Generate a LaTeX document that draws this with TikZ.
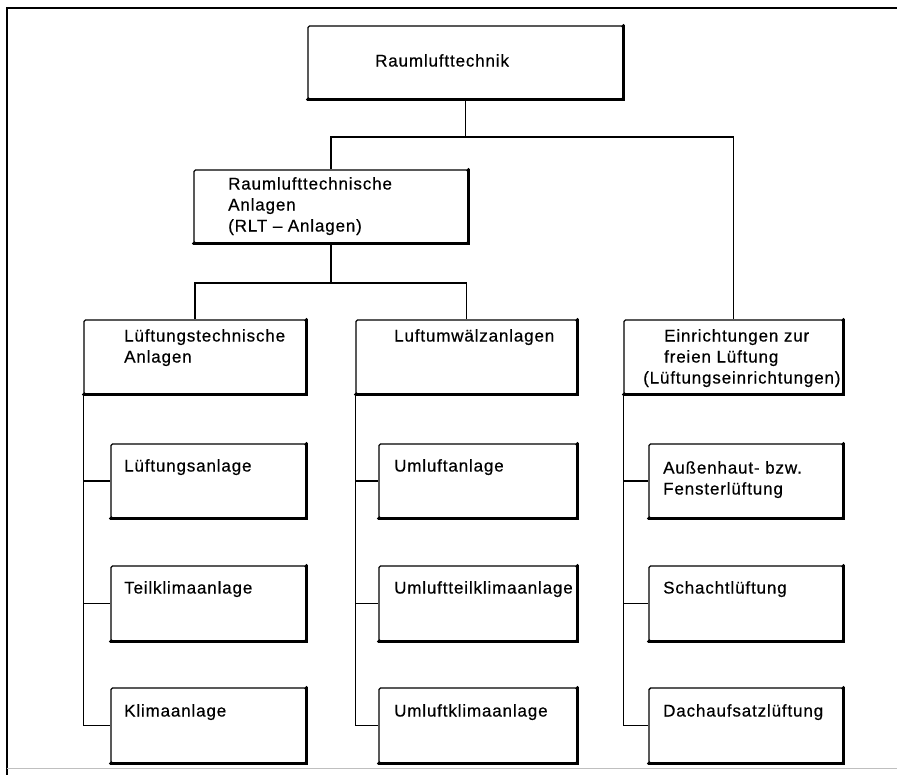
\documentclass[tikz,border=0pt]{standalone}
\usepackage{fontspec}
\setmainfont{Liberation Sans}[LetterSpace=5,FakeBold=0.5]
\tikzset{
  box/.style={draw, line width=1.4pt, rounded corners=1.5pt, inner sep=0pt},
  heavy/.style={line width=2.8pt, line cap=round},
  conn/.style={line width=1.5pt},
  lbl/.style={anchor=north west, inner sep=0pt, align=left, font=\fontsize{17}{21}\selectfont},
}
\newcommand\bx[5]{%
  \node[box, minimum width={#4-#2}, minimum height={#5-#3}] (#1) at ({(#2+#4)/2},{(#3+#5)/2}) {};
  \draw[heavy] (#1.north east) -- (#1.south east) -- (#1.south west);}
\begin{document}
\begin{tikzpicture}[x=1pt,y=-1pt]
\useasboundingbox (0,0) rectangle (897,775);
% frame
\draw[line width=1.3pt] (7,775) -- (7,8) -- (897,8);
\draw[line width=1pt, black!25] (7,768) -- (897,768);
% boxes
\bx{top}{308}{26}{623}{99}
\bx{rlt}{194}{170}{468}{243}
\bx{A}{84}{320}{306}{394}
\bx{B}{356}{320}{577}{394}
\bx{C}{624}{320}{843}{394}
\bx{a1}{111}{444}{306}{518}
\bx{a2}{111}{566}{306}{641}
\bx{a3}{111}{688}{306}{763}
\bx{b1}{379}{444}{577}{518}
\bx{b2}{379}{566}{577}{641}
\bx{b3}{379}{688}{577}{763}
\bx{c1}{649}{444}{843}{518}
\bx{c2}{649}{566}{843}{641}
\bx{c3}{649}{688}{843}{763}
% labels
\node[lbl] (ttop) at (375,54) {Raumlufttechnik};
\node[lbl] (trlt) at (228,177) {Raumlufttechnische\\Anlagen\\(RLT -- Anlagen)};
\node[lbl] (tA) at (124,329) {Lüftungstechnische\\Anlagen};
\node[lbl] (tB) at (394,329) {Luftumwälzanlagen};
\node[lbl] (tC) at (664,329) {Einrichtungen zur\\freien Lüftung\\\hspace*{-21pt}(Lüftungseinrichtungen)};
\node[lbl] (ta1) at (124,459) {Lüftungsanlage};
\node[lbl] (ta2) at (124,581) {Teilklimaanlage};
\node[lbl] (ta3) at (124,704) {Klimaanlage};
\node[lbl] (tb1) at (394,459) {Umluftanlage};
\node[lbl] (tb2) at (394,581) {Umluftteilklimaanlage};
\node[lbl] (tb3) at (394,704) {Umluftklimaanlage};
\node[lbl] (tc1) at (663,461) {Außenhaut- bzw.\\Fensterlüftung};
\node[lbl] (tc2) at (663,581) {Schachtlüftung};
\node[lbl] (tc3) at (663,704) {Dachaufsatzlüftung};
% connectors
\coordinate (j1) at (467,137);
\coordinate (j2) at (331,283);
\draw[conn] (top.south) -- (top.south |- j1);
\draw[conn] (rlt.north) -- (rlt.north |- j1) -- (C.north |- j1) -- (C.north);
\draw[conn] (rlt.south) -- (rlt.south |- j2);
\draw[conn] (A.north) -- (A.north |- j2) -- (B.north |- j2) -- (B.north);
\foreach \p/\k in {A/a, B/b, C/c}{
  \draw[conn] (\p.south west) -- (\p.south west |- \k3.west) -- (\k3.west);
  \draw[conn] (\p.south west |- \k1.west) -- (\k1.west);
  \draw[conn] (\p.south west |- \k2.west) -- (\k2.west);
}
\end{tikzpicture}
\end{document}
